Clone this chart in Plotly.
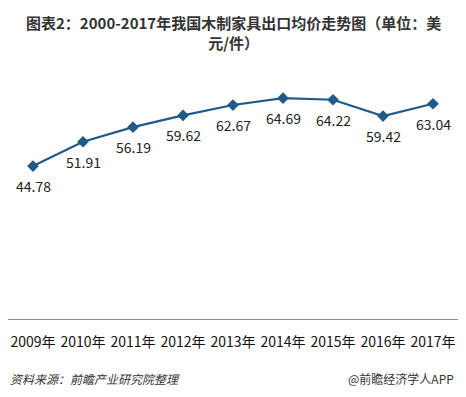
import plotly.graph_objects as go

years = ["2009年", "2010年", "2011年", "2012年", "2013年", "2014年", "2015年", "2016年", "2017年"]
prices = [44.78, 51.91, 56.19, 59.62, 62.67, 64.69, 64.22, 59.42, 63.04]
labels = ["44.78", "51.91", "56.19", "59.62", "62.67", "64.69", "64.22", "59.42", "63.04"]

# The page body keeps its default 8px margin, so the figure is 8px smaller
W, H = 458, 389
ml, mr, mt, mb = 0, 8, 72, 78
ph = H - mt - mb
pw = W - ml - mr

LINE = "#1F5A8A"
FONT = "Noto Sans CJK SC"

fig = go.Figure()
fig.add_trace(go.Scatter(
    x=years, y=prices, mode="lines+markers",
    line=dict(color=LINE, width=2.2),
    marker=dict(symbol="diamond", size=9, color=LINE),
    hoverinfo="skip",
))

annotations = []
for x, y, t in zip(years, prices, labels):
    annotations.append(dict(
        x=x, y=y, xref="x", yref="y", text=t, showarrow=False,
        yshift=-20, font=dict(family=FONT, size=14, color="#222222"),
    ))
annotations.append(dict(
    x=(225 - ml) / pw, xref="paper", y=1 + (mt - 2) / ph, yref="paper",
    xanchor="center", yanchor="top", align="center",
    text="<b>图表2：2000-2017年我国木制家具出口均价走势图（单位：美<br>元/件）</b>",
    showarrow=False,
    font=dict(family=FONT, size=15, color="#333333"),
))
annotations.append(dict(
    x=0, xref="paper", y=-59 / ph, yref="paper", xanchor="left", yanchor="middle",
    text="<i>资料来源：前瞻产业研究院整理</i>", showarrow=False,
    font=dict(family=FONT, size=12, color="#333333"),
))
annotations.append(dict(
    x=1, xref="paper", y=-59 / ph, yref="paper", xanchor="right", yanchor="middle",
    text="@前瞻经济学人APP", showarrow=False,
    font=dict(family=FONT, size=12, color="#333333"), xshift=-2,
))

fig.update_layout(
    width=W, height=H,
    margin=dict(l=ml, r=mr, t=mt, b=mb),
    paper_bgcolor="white", plot_bgcolor="white",
    showlegend=False,
    xaxis=dict(
        showgrid=False, showline=True, linecolor="#8c8c8c", linewidth=1,
        ticks="", tickfont=dict(family=FONT, size=14, color="#111111"),
        ticklabelstandoff=10,
        range=[-0.5, 8.5], fixedrange=True,
    ),
    yaxis=dict(
        range=[0, 70], showgrid=False, showline=False, showticklabels=False,
        zeroline=False, fixedrange=True,
    ),
    annotations=annotations,
)

fig.write_html("out.html")
